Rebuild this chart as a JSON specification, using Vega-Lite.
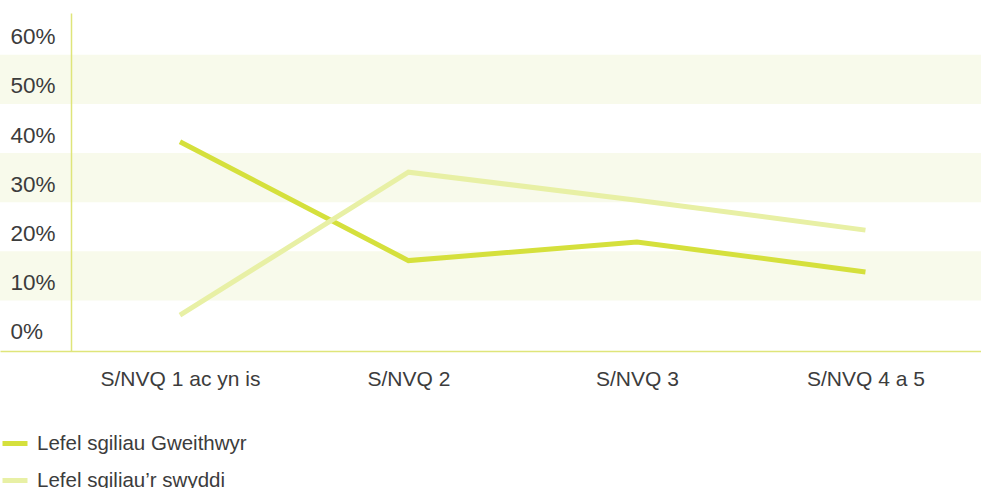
{
  "$schema": "https://vega.github.io/schema/vega-lite/v6.json",
  "width": 981,
  "height": 338,
  "autosize": {"type": "none"},
  "padding": {"left": 0, "top": 13, "right": 0, "bottom": 137},
  "config": {"view": {"stroke": null}, "font": "Liberation Sans"},
  "datasets": {
    "bands": [{"lo": 10, "hi": 20}, {"lo": 30, "hi": 40}, {"lo": 50, "hi": 60}],
    "series": [
      {"level": "S/NVQ 1 ac yn is", "series": "Lefel sgiliau Gweithwyr", "value": 42.3},
      {"level": "S/NVQ 2", "series": "Lefel sgiliau Gweithwyr", "value": 18.1},
      {"level": "S/NVQ 3", "series": "Lefel sgiliau Gweithwyr", "value": 21.9},
      {"level": "S/NVQ 4 a 5", "series": "Lefel sgiliau Gweithwyr", "value": 15.8},
      {"level": "S/NVQ 1 ac yn is", "series": "Lefel sgiliau’r swyddi", "value": 7.0},
      {"level": "S/NVQ 2", "series": "Lefel sgiliau’r swyddi", "value": 36.1},
      {"level": "S/NVQ 3", "series": "Lefel sgiliau’r swyddi", "value": 30.4},
      {"level": "S/NVQ 4 a 5", "series": "Lefel sgiliau’r swyddi", "value": 24.3}
    ]
  },
  "layer": [
    {
      "data": {"name": "bands"},
      "mark": {"type": "rect", "color": "#f8faeb"},
      "encoding": {
        "y": {
          "field": "lo",
          "type": "quantitative",
          "scale": {"domain": [-0.3, 68.5], "nice": false, "zero": false},
          "axis": {
            "title": null,
            "orient": "left",
            "offset": -71,
            "ticks": false,
            "grid": false,
            "values": [0, 10, 20, 30, 40, 50, 60],
            "labelExpr": "datum.value + '%'",
            "labelAlign": "left",
            "labelPadding": 61,
            "labelOffset": -18,
            "labelFontSize": 22.5,
            "labelColor": "#3c3c3c",
            "domainColor": "#dfe57a",
            "domainWidth": 1.5,
            "zindex": 1
          }
        },
        "y2": {"field": "hi"}
      }
    },
    {
      "data": {"name": "series"},
      "mark": {"type": "line", "strokeWidth": 5},
      "encoding": {
        "x": {
          "field": "level",
          "type": "nominal",
          "sort": ["S/NVQ 1 ac yn is", "S/NVQ 2", "S/NVQ 3", "S/NVQ 4 a 5"],
          "scale": {"type": "point", "padding": 0.6466, "align": 0.609},
          "axis": {
            "title": null,
            "ticks": false,
            "grid": false,
            "labelAngle": 0,
            "labelFontSize": 21,
            "labelColor": "#3c3c3c",
            "labelPadding": 17,
            "domainColor": "#dfe57a",
            "domainWidth": 1.5,
            "zindex": 1
          }
        },
        "y": {"field": "value", "type": "quantitative"},
        "color": {
          "field": "series",
          "type": "nominal",
          "scale": {
            "domain": ["Lefel sgiliau Gweithwyr", "Lefel sgiliau’r swyddi"],
            "range": ["#d5e03c", "#e8f0a5"]
          },
          "legend": {
            "title": null,
            "orient": "none",
            "legendX": 0,
            "legendY": 415.5,
            "padding": 0,
            "direction": "vertical",
            "symbolType": "stroke",
            "symbolSize": 625,
            "symbolStrokeWidth": 5,
            "labelOffset": 7,
            "labelFontSize": 20.5,
            "labelColor": "#3c3c3c",
            "labelLimit": 0,
            "rowPadding": 11
          }
        }
      }
    }
  ]
}
